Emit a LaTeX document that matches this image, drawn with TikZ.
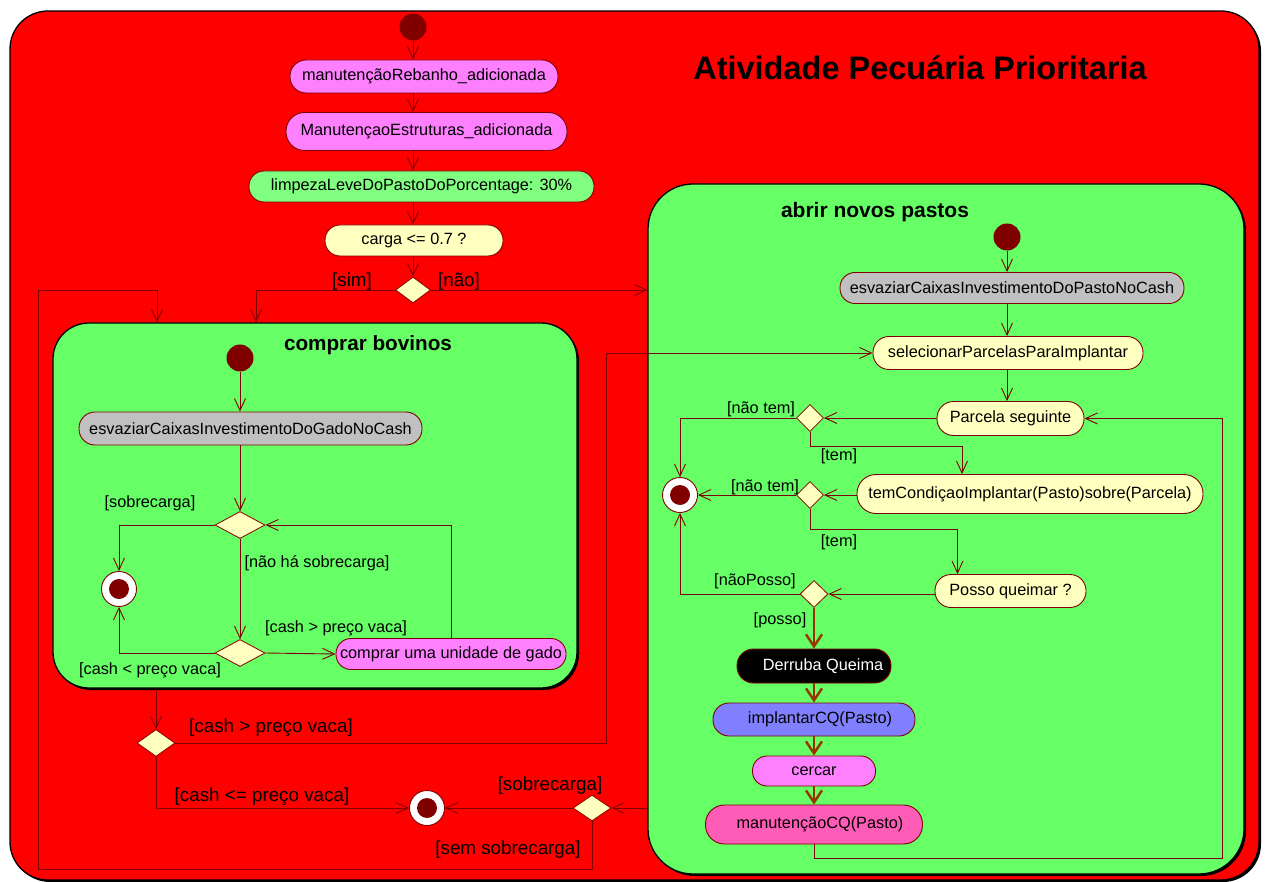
\documentclass[tikz,border=0pt]{standalone}
\usepackage{fontspec}
\setmainfont{Liberation Sans}
\usetikzlibrary{arrows.meta,shapes.geometric,shadows}
\definecolor{dr}{HTML}{800000}
\definecolor{thickc}{HTML}{993300}
\definecolor{boxgreen}{HTML}{66FF66}
\definecolor{actpink}{HTML}{FF80FF}
\definecolor{actgreen}{HTML}{80FF80}
\definecolor{actyellow}{HTML}{FFFFC0}
\definecolor{actgray}{HTML}{C0C0C0}
\definecolor{actblue}{HTML}{8080FF}
\definecolor{acthot}{HTML}{FF5CB8}
\tikzset{
  txt/.style={font=\fontsize{16.3}{19}\selectfont},
  act/.style n args={3}{rectangle, draw=dr, line width=0.9pt, inner sep=0pt, txt,
    minimum width=#1, minimum height=#2, rounded corners=#3},
  decision/.style n args={2}{diamond, draw=dr, fill=actyellow, line width=0.8pt,
    inner sep=0pt, minimum width=#1, minimum height=#2},
  startnode/.style={circle, fill=dr, inner sep=0pt, minimum size=27pt},
  endnode/.style={circle, draw=dr, fill=white, line width=0.9pt, inner sep=0pt,
    minimum size=35pt, path picture={\fill[dr] (path picture bounding box.center) circle (10pt);}},
  composite/.style n args={3}{draw=black, line width=1.3pt, fill=boxgreen, inner sep=0pt,
    minimum width=#1, minimum height=#2, rounded corners=#3,
    drop shadow={shadow xshift=2pt, shadow yshift=-2pt, opacity=1, fill=black}},
  flow/.style={draw=dr, line width=0.9pt, -{Straight Barb[length=12pt,width=11pt]}},
  heavy/.style={draw=thickc, line width=2.4pt, -{Straight Barb[length=12pt,width=16pt]}},
  lbl/.style={txt, inner sep=0pt},
  lblbig/.style={font=\fontsize{18.8}{22}\selectfont, inner sep=0pt},
  heading/.style={font=\bfseries\fontsize{#1}{#1}\selectfont, inner sep=0pt},
}
\begin{document}
\begin{tikzpicture}[x=1pt, y=-1pt]
\useasboundingbox (0,0) rectangle (1266,882);

% outer activity frame with its shadow
\fill[black, rounded corners=38pt] (12,13) rectangle (1261,882);
\filldraw[fill=red, draw=black, line width=1.3pt, rounded corners=38pt] (10,11) rectangle (1259,880);
\node[heading=32.5] (title) at (920,68) {Atividade Pecuária Prioritaria};

% composite states
\node[composite={524}{365}{36pt}] (cb) at (315,505.5) {};
\node[composite={596}{690}{45pt}] (anp) at (946,529) {};
\node[heading=20.7] (tcb) at (368,345) {comprar bovinos};
\node[heading=21] (tanp) at (875,212) {abrir novos pastos};

% main flow
\node[startnode] (i0) at (413,27) {};
\node[act={268}{33}{16pt}, fill=actpink] (a1) at (424,76.5) {manutençãoRebanho\_adicionada};
\node[act={281}{38}{18.5pt}, fill=actpink] (a2) at (426.5,131.5) {ManutençaoEstruturas\_adicionada};
\node[act={345}{31}{15pt}, fill=actgreen] (a3) at (421.5,186.5) {limpezaLeveDoPastoDoPorcentage: 30\%};
\node[act={178}{31}{15pt}, fill=actyellow] (a4) at (414,240.5) {carga <= 0.7 ?};
\node[decision={35}{26}] (d1) at (413,290) {};
\node[lblbig] (lsim) at (352,282) {[sim]};
\node[lblbig] (lnao) at (459,282) {[não]};

\draw[flow] (i0) -- (i0 |- a1.north);
\draw[flow] (i0 |- a1.south) -- (i0 |- a2.north);
\draw[flow] (i0 |- a2.south) -- (i0 |- a3.north);
\draw[flow] (i0 |- a3.south) -- (i0 |- a4.north);
\draw[flow] (i0 |- a4.south) -- (d1.north);
\draw[flow] (d1.west) -| ([xshift=-59pt]cb.north);
\draw[flow] (d1.east) -- (d1.east -| anp.west);

% comprar bovinos
\node[startnode] (i1) at (240,358) {};
\node[act={343}{33}{16pt}, fill=actgray] (g1) at (250.5,428.5) {esvaziarCaixasInvestimentoDoGadoNoCash};
\node[decision={50}{27}] (d2) at (240,525) {};
\node[endnode] (f1) at (119,589) {};
\node[decision={50}{27}] (d3) at (240,653) {};
\node[act={230}{31}{15pt}, fill=actpink] (ga) at (451,654) {comprar uma unidade de gado};
\node[lbl] (lsob1) at (150,503) {[sobrecarga]};
\node[lbl] (lnhs) at (317,563) {[não há sobrecarga]};
\node[lbl] (lcmen) at (150,670) {[cash < preço vaca]};
\node[lbl] (lcmai) at (336,628) {[cash > preço vaca]};

\draw[flow] (i1) -- (i1 |- g1.north);
\draw[flow] (i1 |- g1.south) -- (d2.north);
\draw[flow] (d2.west) -| (f1.north);
\draw[flow] (d2.south) -- (d3.north);
\draw[flow] (d3.west) -| (f1.south);
\draw[flow] (d3.east) -- (ga.west);
\draw[flow] (ga.north) |- (d2.east);

% after comprar bovinos
\node[decision={38}{27}] (d4) at (156,743) {};
\node[endnode] (f2) at (427,808) {};
\node[decision={38}{26}] (d5) at (592,808) {};
\coordinate (jog) at (606,743);
\coordinate (lpa) at (38,869);
\coordinate (lpb) at (38,290);
\node[lblbig] (lcm2) at (271,728) {[cash > preço vaca]};
\node[lblbig] (lcle) at (262,797) {[cash <= preço vaca]};
\node[lblbig] (lsob2) at (550,786) {[sobrecarga]};
\node[lblbig] (lsem) at (508,850) {[sem sobrecarga]};

\draw[flow] (d4.north |- cb.south) -- (d4.north);
\draw[flow] (d4.south) |- (f2.west);
\draw[flow] (anp.west |- d5) -- (d5.east);
\draw[flow] (d5.west) -- (f2.east);
\draw[flow] (d5.south) |- (lpa) -- (lpb) -| ([xshift=-158pt]cb.north);

% abrir novos pastos
\node[startnode] (i2) at (1007,237) {};
\node[act={344}{31}{15pt}, fill=actgray] (eg) at (1012,288) {esvaziarCaixasInvestimentoDoPastoNoCash};
\node[act={270}{33}{16pt}, fill=actyellow] (sel) at (1008,353) {selecionarParcelasParaImplantar};
\node[act={147}{34}{16.5pt}, fill=actyellow] (ps) at (1010.5,418.5) {Parcela seguinte};
\node[decision={27}{27}] (d6) at (810,418) {};
\node[endnode] (f3) at (680,495) {};
\node[act={346}{39}{19pt}, fill=actyellow] (tc) at (1030,494) {temCondiçaoImplantar(Pasto)sobre(Parcela)};
\node[decision={27}{27}] (d7) at (810,495) {};
\node[act={151}{33}{16pt}, fill=actyellow] (pq) at (1010.5,591) {Posso queimar ?};
\node[decision={28}{27}] (d8) at (814,594) {};
\node[act={154}{34}{16.5pt}, fill=black, text=white] (dq) at (814,666) {\hspace*{18pt}Derruba Queima};
\node[act={202}{33}{16pt}, fill=actblue] (ic) at (814,719.5) {\hspace*{12pt}implantarCQ(Pasto)};
\node[act={123}{30}{14.5pt}, fill=actpink] (ce) at (814,771) {cercar};
\node[act={217}{39}{19pt}, fill=acthot] (mc) at (814,824.5) {\hspace*{12pt}manutençãoCQ(Pasto)};
\coordinate (rt) at (1222,858);
\node[lbl] (lnt1) at (761,409) {[não tem]};
\node[lbl] (lt1) at (839,456) {[tem]};
\node[lbl] (lnt2) at (765,487) {[não tem]};
\node[lbl] (lt2) at (839,542) {[tem]};
\node[lbl] (lnp) at (755,581) {[nãoPosso]};
\node[lbl] (lp) at (780,620) {[posso]};

\draw[flow] (d4.east) -- (jog) |- (sel.west);
\draw[flow] (i2) -- (i2 |- eg.north);
\draw[flow] (i2 |- eg.south) -- (i2 |- sel.north);
\draw[flow] (i2 |- sel.south) -- (i2 |- ps.north);
\draw[flow] (ps.west |- d6) -- (d6.east);
\draw[flow] (d6.west) -| (f3.north);
\draw[flow] (d6.south) -- ++(0,15) -| ([xshift=-68pt]tc.north);
\draw[flow] (tc.west |- d7) -- (d7.east);
\draw[flow] (d7.west) -- (d7.west -| f3.east);
\draw[flow] (d7.south) -- ++(0,21) -| ([xshift=-53pt]pq.north);
\draw[flow] (pq.west |- d8) -- (d8.east);
\draw[flow] (d8.west) -| (f3.south);
\draw[heavy] (d8.south) -- (dq.north);
\draw[heavy] (dq.south) -- (ic.north);
\draw[heavy] (ic.south) -- (ce.north);
\draw[heavy] (ce.south) -- (mc.north);
\draw[flow] (mc.south) |- (rt) |- (ps.east);
\end{tikzpicture}
\end{document}
